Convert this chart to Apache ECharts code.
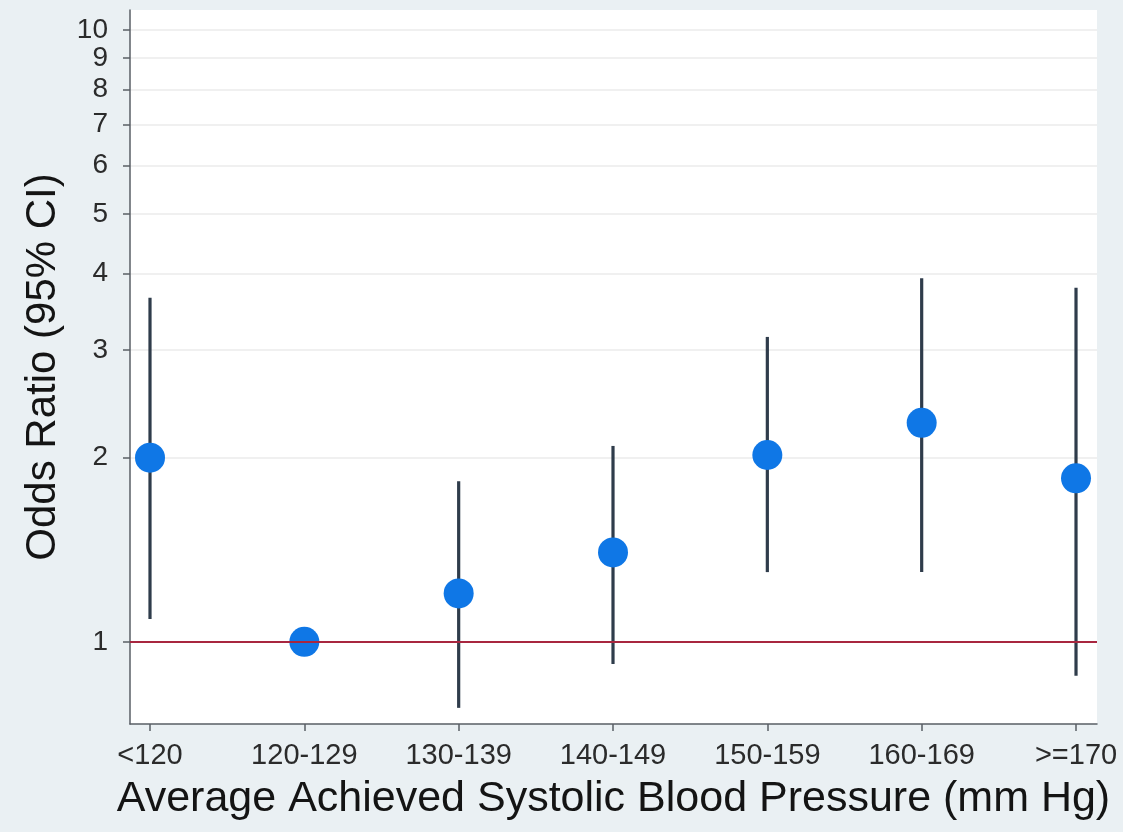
<!DOCTYPE html>
<html>
<head>
<meta charset="utf-8">
<script src="https://cdn.jsdelivr.net/npm/echarts@6/dist/echarts.min.js"></script>
<style>
  html, body { margin: 0; padding: 0; background: #eaf0f3; }
  #chart { width: 1123px; height: 832px; }
</style>
</head>
<body>
<div id="chart"></div>
<script>
// Blood pressure groups and odds ratios with 95% confidence limits
const categories = ['<120', '120-129', '130-139', '140-149', '150-159', '160-169', '>=170'];
const oddsRatio  = [2.00, 1.00, 1.20, 1.40, 2.02, 2.28, 1.85];
const ciLower    = [1.09, null, 0.78, 0.92, 1.30, 1.30, 0.88];
const ciUpper    = [3.65, null, 1.83, 2.09, 3.15, 3.93, 3.79];
const yTicks     = [1, 2, 3, 4, 5, 6, 7, 8, 9, 10];
const referenceOR = 1;
const yRange = [0.734, 10.78];

// The odds-ratio axis is logarithmic: values are carried in log10 units.
const lg = v => Math.log10(v);

const pointData = oddsRatio.map((v, i) => [i, lg(v)]);
const ciData = [];
categories.forEach((c, i) => {
  if (ciLower[i] != null && ciUpper[i] != null) {
    ciData.push([i, lg(ciLower[i]), lg(ciUpper[i])]);
  }
});

const FONT = '"Liberation Sans", Arial, Helvetica, sans-serif';
const AXIS_COLOR = '#5a5f66';

const chart = echarts.init(document.getElementById('chart'), null, { renderer: 'canvas' });

chart.setOption({
  backgroundColor: '#eaf0f3',
  animation: false,
  grid: {
    left: 130, right: 26, top: 10, bottom: 108,
    show: true, backgroundColor: '#ffffff', borderWidth: 0
  },
  xAxis: {
    type: 'value',
    min: -0.1296,
    max: 6.136,
    name: 'Average Achieved Systolic Blood Pressure (mm Hg)',
    nameLocation: 'middle',
    nameGap: 54,
    nameTextStyle: { fontFamily: FONT, fontSize: 43, color: '#141414' },
    axisLine: { show: true, onZero: false, lineStyle: { color: AXIS_COLOR, width: 1.5 } },
    axisTick: {
      show: true, length: 7, inside: false,
      customValues: categories.map((c, i) => i),
      lineStyle: { color: AXIS_COLOR, width: 1.5 }
    },
    axisLabel: {
      customValues: categories.map((c, i) => i),
      formatter: v => categories[Math.round(v)],
      margin: 17,
      fontFamily: FONT, fontSize: 29, color: '#2b2b2b'
    },
    splitLine: { show: false }
  },
  yAxis: {
    type: 'value',
    min: lg(yRange[0]),
    max: lg(yRange[1]),
    name: 'Odds Ratio (95% CI)',
    nameLocation: 'middle',
    nameRotate: 90,
    nameGap: 66,
    nameTextStyle: { fontFamily: FONT, fontSize: 42, color: '#141414' },
    axisLine: { show: true, onZero: false, lineStyle: { color: AXIS_COLOR, width: 1.5 } },
    axisTick: {
      show: true, length: 7, inside: false,
      customValues: yTicks.map(lg),
      lineStyle: { color: AXIS_COLOR, width: 1.5 }
    },
    axisLabel: {
      customValues: yTicks.map(lg),
      formatter: v => String(Math.round(Math.pow(10, v))),
      margin: 22,
      fontFamily: FONT, fontSize: 28, color: '#2b2b2b'
    },
    splitLine: { show: true, lineStyle: { color: '#ebebeb', width: 1.5 } }
  },
  series: [
    {
      // reference line at OR = 1
      type: 'line',
      data: [],
      z: 1,
      markLine: {
        silent: true,
        symbol: ['none', 'none'],
        label: { show: false },
        lineStyle: { color: '#a8263f', width: 2, type: 'solid' },
        data: [{ yAxis: lg(referenceOR) }]
      }
    },
    {
      // confidence interval bars
      type: 'custom',
      z: 2,
      data: ciData,
      encode: { x: 0, y: [1, 2] },
      renderItem: (params, api) => {
        const x = api.value(0);
        const lo = api.coord([x, api.value(1)]);
        const hi = api.coord([x, api.value(2)]);
        return {
          type: 'line',
          shape: { x1: lo[0], y1: lo[1], x2: hi[0], y2: hi[1] },
          style: { stroke: '#2f3c4b', lineWidth: 3.2 }
        };
      }
    },
    {
      // point estimates
      type: 'scatter',
      z: 3,
      data: pointData,
      symbol: 'circle',
      symbolSize: 30,
      itemStyle: { color: '#0f77e6', opacity: 1 }
    }
  ]
});
</script>
</body>
</html>
